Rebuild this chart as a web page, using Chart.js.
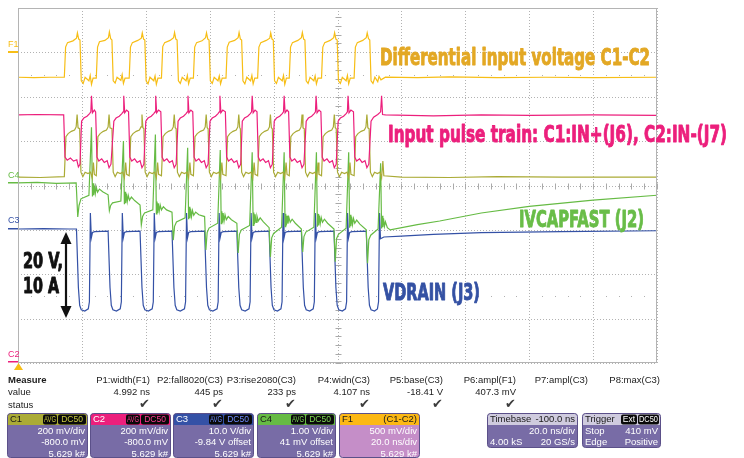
<!DOCTYPE html>
<html>
<head>
<meta charset="utf-8">
<script src="https://cdn.jsdelivr.net/npm/chart.js@4.4.1/dist/chart.umd.min.js"></script>
<style>
  html, body { margin: 0; padding: 0; background: #fff; }
  #wrap { width: 744px; height: 458px; }
</style>
</head>
<body>
<div id="wrap"><canvas id="scope" width="744" height="458"></canvas></div>
<script>
// screen: 10 div x 20 ns, 8 vertical div; all traces in screen divisions
const timeRangeNs = [0, 200];
const screenDivs = [-4, 4];

// F1 = C1-C2, differential input voltage
const diffC1C2 = [
  [0,2.44],[5,2.43],[10,2.44],
  [14.5,2.44],[14.9,3.12],[15.5,3.22],[17.2,3.26],[18.3,3.32],[18.6,3.44],[19.0,3.30],[19.4,3.28],[19.8,2.36],[20.4,2.30],[21.0,2.44],[22.2,2.36],[22.6,2.48],[23.0,2.28],[23.5,2.42],
  [24.5,2.42],[24.9,3.12],[25.5,3.24],[27.2,3.27],[28.3,3.33],[28.6,3.46],[29.0,3.31],[29.4,3.28],[29.8,2.36],[30.4,2.31],[31.0,2.44],[32.2,2.37],[32.6,2.50],[33.0,2.30],[33.5,2.42],
  [34.8,2.42],[35.2,3.12],[35.8,3.22],[37.5,3.27],[38.6,3.32],[38.9,3.44],[39.3,3.30],[39.7,3.28],[40.1,2.36],[40.7,2.29],[41.3,2.44],[42.5,2.36],[42.9,2.47],[43.3,2.28],[43.8,2.42],
  [44.9,2.42],[45.3,3.13],[45.9,3.22],[47.6,3.27],[48.7,3.33],[49.0,3.45],[49.4,3.30],[49.8,3.28],[50.2,2.36],[50.8,2.30],[51.4,2.44],[52.6,2.36],[53.0,2.48],[53.4,2.29],[53.9,2.42],
  [54.9,2.42],[55.3,3.12],[55.9,3.22],[57.6,3.26],[58.7,3.33],[59.0,3.44],[59.4,3.30],[59.8,3.28],[60.2,2.36],[60.8,2.30],[61.4,2.44],[62.6,2.36],[63.0,2.47],[63.4,2.29],[63.9,2.42],
  [65.1,2.42],[65.5,3.12],[66.1,3.23],[67.8,3.27],[68.9,3.33],[69.2,3.45],[69.6,3.30],[70.0,3.28],[70.4,2.36],[71.0,2.29],[71.6,2.44],[72.8,2.36],[73.2,2.48],[73.6,2.29],[74.1,2.42],
  [75.0,2.42],[75.4,3.12],[76.0,3.22],[77.7,3.27],[78.8,3.32],[79.1,3.44],[79.5,3.30],[79.9,3.28],[80.3,2.36],[80.9,2.30],[81.5,2.44],[82.7,2.36],[83.1,2.48],[83.5,2.28],[84.0,2.42],
  [84.9,2.42],[85.3,3.12],[85.9,3.22],[87.6,3.27],[88.7,3.33],[89.0,3.45],[89.4,3.30],[89.8,3.28],[90.2,2.36],[90.8,2.30],[91.4,2.44],[92.6,2.36],[93.0,2.47],[93.4,2.29],[93.9,2.42],
  [95.0,2.42],[95.4,3.12],[96.0,3.22],[97.7,3.27],[98.8,3.33],[99.1,3.44],[99.5,3.30],[99.9,3.28],[100.3,2.36],[100.9,2.30],[101.5,2.44],[102.7,2.36],[103.1,2.48],[103.5,2.29],[104.0,2.42],
  [105.2,2.42],[105.6,3.12],[106.2,3.22],[107.9,3.27],[109.0,3.33],[109.3,3.44],[109.7,3.31],[110.1,3.28],[110.5,2.36],[111.1,2.30],[111.7,2.44],[112.6,2.34],[113.0,2.46],[113.6,2.38],
  [115,2.44],[125,2.43],[135,2.45],[150,2.43],[165,2.44],[180,2.43],[200,2.44]
];

// C2 = IN-(J7)
const pulseC2 = [
  [0,1.59],[6,1.60],[14.3,1.59],[14.7,0.64],[15.4,0.57],[16.4,0.62],[17.4,0.55],[18.4,0.58],[18.9,0.42],[19.4,0.48],
  [19.9,1.45],[20.6,1.52],[21.6,1.56],[22.4,1.62],[22.8,1.66],[23.0,2.02],[23.3,1.64],[23.9,1.70],[24.3,1.66],[24.7,0.64],[25.3,0.55],[26.2,0.60],[27.0,0.52],[27.9,0.56],[28.5,0.40],[29.1,0.48],
  [30.0,1.45],[30.7,1.52],[31.7,1.56],[32.5,1.62],[32.9,1.66],[33.1,2.02],[33.4,1.64],[34.0,1.70],[34.6,1.66],[35.0,0.64],[35.6,0.55],[36.5,0.60],[37.3,0.52],[38.2,0.56],[38.8,0.40],[39.4,0.48],
  [40.0,1.45],[40.7,1.52],[41.7,1.56],[42.5,1.62],[42.9,1.66],[43.1,2.02],[43.4,1.64],[44.0,1.70],[44.7,1.66],[45.1,0.64],[45.7,0.55],[46.6,0.60],[47.4,0.52],[48.3,0.56],[48.9,0.40],[49.5,0.48],
  [50.1,1.45],[50.8,1.52],[51.8,1.56],[52.6,1.62],[53.0,1.66],[53.2,2.02],[53.5,1.64],[54.1,1.70],[54.7,1.66],[55.1,0.64],[55.7,0.55],[56.6,0.60],[57.4,0.52],[58.3,0.56],[58.9,0.40],[59.5,0.48],
  [60.1,1.45],[60.8,1.52],[61.8,1.56],[62.6,1.62],[63.0,1.66],[63.2,2.02],[63.5,1.64],[64.1,1.70],[64.9,1.66],[65.3,0.64],[65.9,0.55],[66.8,0.60],[67.6,0.52],[68.5,0.56],[69.1,0.40],[69.7,0.48],
  [70.2,1.45],[70.9,1.52],[71.9,1.56],[72.7,1.62],[73.1,1.66],[73.3,2.02],[73.6,1.64],[74.2,1.70],[74.8,1.66],[75.2,0.64],[75.8,0.55],[76.7,0.60],[77.5,0.52],[78.4,0.56],[79.0,0.40],[79.6,0.48],
  [80.2,1.45],[80.9,1.52],[81.9,1.56],[82.7,1.62],[83.1,1.66],[83.3,2.02],[83.6,1.64],[84.2,1.70],[84.7,1.66],[85.1,0.64],[85.7,0.55],[86.6,0.60],[87.4,0.52],[88.3,0.56],[88.9,0.40],[89.5,0.48],
  [90.2,1.45],[90.9,1.52],[91.9,1.56],[92.7,1.62],[93.1,1.66],[93.3,2.02],[93.6,1.64],[94.2,1.70],[94.8,1.66],[95.2,0.64],[95.8,0.55],[96.7,0.60],[97.5,0.52],[98.4,0.56],[99.0,0.40],[99.6,0.48],
  [100.2,1.45],[100.9,1.52],[101.9,1.56],[102.7,1.62],[103.1,1.66],[103.3,2.02],[103.6,1.64],[104.2,1.70],[105.0,1.66],[105.4,0.64],[106.0,0.55],[106.9,0.60],[107.7,0.52],[108.6,0.56],[109.2,0.40],[109.8,0.48],
  [110.5,1.45],[111.3,1.54],[112.6,1.60],[113.5,1.66],[113.8,2.02],[114.1,1.60],[115,1.59],[130,1.57],[145,1.59],[160,1.58],[180,1.59],[200,1.58]
];

// C1 = IN+(J6)
const pulseC1 = [
  [0,0.19],[7,0.18],[14.5,0.20],
  [15.0,1.10],[15.7,1.17],[16.7,1.22],[17.7,1.25],[18.2,1.32],[18.5,1.60],[18.8,1.30],[19.3,1.28],[19.7,0.30],[20.3,0.20],[21.0,0.30],[21.9,0.27],[22.7,0.30],[23.2,0.17],[23.6,0.52],[23.9,0.25],
  [24.5,0.22],[25.0,1.10],[25.7,1.17],[26.7,1.22],[27.7,1.25],[28.2,1.32],[28.5,1.60],[28.8,1.30],[29.4,1.28],[29.8,0.30],[30.4,0.20],[31.1,0.30],[32.0,0.27],[32.8,0.30],[33.3,0.17],[33.7,0.52],[34.0,0.25],
  [34.8,0.22],[35.3,1.10],[36.0,1.17],[37.0,1.22],[38.0,1.25],[38.5,1.32],[38.8,1.60],[39.1,1.30],[39.4,1.28],[39.8,0.30],[40.4,0.20],[41.1,0.30],[42.0,0.27],[42.8,0.30],[43.3,0.17],[43.7,0.52],[44.0,0.25],
  [44.9,0.22],[45.4,1.10],[46.1,1.17],[47.1,1.22],[48.1,1.25],[48.6,1.32],[48.9,1.60],[49.2,1.30],[49.5,1.28],[49.9,0.30],[50.5,0.20],[51.2,0.30],[52.1,0.27],[52.9,0.30],[53.4,0.17],[53.8,0.52],[54.1,0.25],
  [54.9,0.22],[55.4,1.10],[56.1,1.17],[57.1,1.22],[58.1,1.25],[58.6,1.32],[58.9,1.60],[59.2,1.30],[59.5,1.28],[59.9,0.30],[60.5,0.20],[61.2,0.30],[62.1,0.27],[62.9,0.30],[63.4,0.17],[63.8,0.52],[64.1,0.25],
  [65.1,0.22],[65.6,1.10],[66.3,1.17],[67.3,1.22],[68.3,1.25],[68.8,1.32],[69.1,1.60],[69.4,1.30],[69.6,1.28],[70.0,0.30],[70.6,0.20],[71.3,0.30],[72.2,0.27],[73.0,0.30],[73.5,0.17],[73.9,0.52],[74.2,0.25],
  [75.0,0.22],[75.5,1.10],[76.2,1.17],[77.2,1.22],[78.2,1.25],[78.7,1.32],[79.0,1.60],[79.3,1.30],[79.6,1.28],[80.0,0.30],[80.6,0.20],[81.3,0.30],[82.2,0.27],[83.0,0.30],[83.5,0.17],[83.9,0.52],[84.2,0.25],
  [84.9,0.22],[85.4,1.10],[86.1,1.17],[87.1,1.22],[88.1,1.25],[88.6,1.32],[88.9,1.60],[89.2,1.30],[89.6,1.28],[90.0,0.30],[90.6,0.20],[91.3,0.30],[92.2,0.27],[93.0,0.30],[93.5,0.17],[93.9,0.52],[94.2,0.25],
  [95.0,0.22],[95.5,1.10],[96.2,1.17],[97.2,1.22],[98.2,1.25],[98.7,1.32],[99.0,1.60],[99.3,1.30],[99.6,1.28],[100.0,0.30],[100.6,0.20],[101.3,0.30],[102.2,0.27],[103.0,0.30],[103.5,0.17],[103.9,0.52],[104.2,0.25],
  [105.2,0.22],[105.7,1.10],[106.4,1.17],[107.4,1.22],[108.4,1.25],[108.9,1.32],[109.2,1.60],[109.5,1.30],[109.9,1.28],[110.3,0.30],[110.9,0.20],[111.6,0.30],[112.5,0.27],[113.3,0.30],[113.8,0.17],[114.2,0.55],[114.5,0.22],
  [120,0.19],[135,0.18],[150,0.20],[170,0.19],[200,0.19]
];

// C4 = IVCAPFAST (J2)
const ivcapFast = [
  [0,0.06],[6,0.07],[12,0.05],[18.2,0.06],
  [18.7,-0.71],[19.1,-0.45],[19.7,-0.30],[22.2,-0.22],[23.0,1.31],[23.3,-0.25],[23.5,0.05],[23.7,-0.22],[23.9,0.00],[24.2,-0.18],[24.5,-0.04],[24.9,-0.15],[25.5,-0.08],[26.5,-0.14],[28.2,-0.21],
  [28.6,-0.57],[29.0,-0.45],[29.6,-0.39],[32.2,-0.35],[33.0,1.00],[33.3,-0.42],[33.5,-0.14],[33.7,-0.40],[33.9,-0.18],[34.2,-0.36],[34.5,-0.22],[34.9,-0.33],[35.5,-0.26],[36.5,-0.34],[38.2,-0.44],
  [38.6,-0.89],[39.0,-0.70],[39.6,-0.62],[42.2,-0.55],[43.0,1.15],[43.3,-0.64],[43.5,-0.36],[43.7,-0.62],[43.9,-0.40],[44.2,-0.58],[44.5,-0.44],[44.9,-0.55],[45.5,-0.48],[46.5,-0.55],[48.2,-0.60],
  [48.6,-1.23],[49.0,-0.92],[49.6,-0.82],[52.3,-0.73],[53.1,0.85],[53.4,-0.76],[53.6,-0.48],[53.8,-0.74],[54.0,-0.52],[54.3,-0.70],[54.6,-0.56],[55.0,-0.67],[55.6,-0.60],[56.6,-0.66],[58.4,-0.70],
  [58.8,-1.45],[59.2,-1.06],[59.8,-0.96],[62.5,-0.85],[63.3,0.80],[63.6,-0.86],[63.8,-0.58],[64.0,-0.84],[64.2,-0.62],[64.5,-0.80],[64.8,-0.66],[65.2,-0.77],[65.8,-0.70],[66.8,-0.77],[68.5,-0.85],
  [68.9,-1.52],[69.3,-1.10],[69.9,-1.00],[72.5,-0.90],[73.3,0.75],[73.6,-0.90],[73.8,-0.61],[74.0,-0.87],[74.2,-0.65],[74.5,-0.83],[74.8,-0.69],[75.2,-0.80],[75.8,-0.73],[76.8,-0.82],[78.6,-0.95],
  [79.0,-1.61],[79.4,-1.18],[80.0,-1.08],[82.5,-0.94],[83.3,0.75],[83.6,-0.93],[83.8,-0.64],[84.0,-0.90],[84.2,-0.68],[84.5,-0.86],[84.8,-0.72],[85.2,-0.83],[85.8,-0.76],[86.8,-0.85],[88.7,-0.98],
  [89.1,-1.50],[89.5,-1.15],[90.1,-1.05],[92.6,-0.94],[93.4,0.75],[93.7,-0.93],[93.9,-0.64],[94.1,-0.90],[94.3,-0.68],[94.6,-0.86],[94.9,-0.72],[95.3,-0.83],[95.9,-0.76],[96.9,-0.85],[98.9,-0.98],
  [99.3,-1.72],[99.7,-1.20],[100.3,-1.10],[102.7,-0.96],[103.5,0.75],[103.8,-0.95],[104.0,-0.66],[104.2,-0.92],[104.4,-0.70],[104.7,-0.88],[105.0,-0.74],[105.4,-0.85],[106.0,-0.78],[107.0,-0.87],[109.0,-1.00],
  [109.4,-1.75],[109.8,-1.22],[110.4,-1.12],[112.7,-0.98],[113.5,0.50],[113.8,-0.97],[114.0,-0.68],[114.2,-0.94],[114.4,-0.74],[114.7,-0.92],[115.0,-0.82],[115.6,-0.95],
  [116.5,-1.00],[125,-0.88],[132,-0.80],[145,-0.62],[160,-0.47],[180,-0.33],[200,-0.22]
];

// C3 = VDRAIN (J3)
const vDrain = [
  [0,-0.98],[8,-0.97],[16,-0.98],[18.3,-0.98],
  [18.9,-2.30],[19.3,-2.70],[19.8,-2.80],[20.9,-2.83],[22.0,-2.78],[22.35,-2.62],[22.65,-0.62],[22.95,-1.18],[23.3,-1.06],[24.0,-1.04],[28.2,-1.03],
  [28.8,-2.30],[29.2,-2.70],[29.7,-2.80],[30.8,-2.83],[32.0,-2.78],[32.35,-2.62],[32.65,-0.62],[32.95,-1.18],[33.3,-1.06],[34.0,-1.04],[38.2,-1.03],
  [38.8,-2.30],[39.2,-2.70],[39.7,-2.80],[40.8,-2.83],[42.0,-2.78],[42.35,-2.62],[42.65,-0.62],[42.95,-1.18],[43.3,-1.06],[44.0,-1.04],[48.2,-1.03],
  [48.8,-2.30],[49.2,-2.70],[49.7,-2.80],[50.8,-2.83],[52.1,-2.78],[52.45,-2.62],[52.75,-0.62],[53.05,-1.18],[53.4,-1.06],[54.1,-1.04],[58.4,-1.03],
  [59.0,-2.30],[59.4,-2.70],[59.9,-2.80],[61.0,-2.83],[62.3,-2.78],[62.65,-2.62],[62.95,-0.62],[63.25,-1.18],[63.6,-1.06],[64.3,-1.04],[68.5,-1.03],
  [69.1,-2.30],[69.5,-2.70],[70.0,-2.80],[71.1,-2.83],[72.3,-2.78],[72.65,-2.62],[72.95,-0.62],[73.25,-1.18],[73.6,-1.06],[74.3,-1.04],[78.6,-1.03],
  [79.2,-2.30],[79.6,-2.70],[80.1,-2.80],[81.2,-2.83],[82.3,-2.78],[82.65,-2.62],[82.95,-0.62],[83.25,-1.18],[83.6,-1.06],[84.3,-1.04],[88.7,-1.03],
  [89.3,-2.30],[89.7,-2.70],[90.2,-2.80],[91.3,-2.83],[92.4,-2.78],[92.75,-2.62],[93.05,-0.62],[93.35,-1.18],[93.7,-1.06],[94.4,-1.04],[98.9,-1.03],
  [99.5,-2.30],[99.9,-2.70],[100.4,-2.80],[101.5,-2.83],[102.5,-2.78],[102.85,-2.62],[103.15,-0.62],[103.45,-1.18],[103.8,-1.06],[104.5,-1.04],[109.0,-1.03],
  [109.6,-2.30],[110.0,-2.70],[110.5,-2.80],[111.6,-2.83],[112.5,-2.78],[112.85,-2.62],[113.15,-0.62],[113.45,-1.20],[114.5,-1.16],
  [120,-1.14],[130,-1.10],[145,-1.06],[170,-1.04],[200,-1.02]
];

// measurement table and channel descriptors
const measureNames = ["P1:width(F1)", "P2:fall8020(C3)", "P3:rise2080(C3)", "P4:widn(C3)", "P5:base(C3)", "P6:ampl(F1)", "P7:ampl(C3)", "P8:max(C3)"];
const measureValues = ["4.992 ns", "445 ps", "233 ps", "4.107 ns", "-18.41 V", "407.3 mV", "", ""];
const measureStatus = [true, true, true, true, true, true, false, false];
const channelNames = ["C1", "C2", "C3", "C4"];
const channelLines = [
  ["200 mV/div", "-800.0 mV", "5.629 k#"],
  ["200 mV/div", "-800.0 mV", "5.629 k#"],
  ["10.0 V/div", "-9.84 V offset", "5.629 k#"],
  ["1.00 V/div", "41 mV offset", "5.629 k#"]
];
const mathLines = ["500 mV/div", "20.0 ns/div", "5.629 k#"];

const COL = {
  f1: "#f7be16", c1: "#abab36", c2: "#ec1f7c", c3: "#3451a6", c4: "#66bb44"
};

function rrect(ctx, x, y, w, h, r) {
  ctx.beginPath();
  ctx.moveTo(x + r, y);
  ctx.lineTo(x + w - r, y);
  ctx.quadraticCurveTo(x + w, y, x + w, y + r);
  ctx.lineTo(x + w, y + h - r);
  ctx.quadraticCurveTo(x + w, y + h, x + w - r, y + h);
  ctx.lineTo(x + r, y + h);
  ctx.quadraticCurveTo(x, y + h, x, y + h - r);
  ctx.lineTo(x, y + r);
  ctx.quadraticCurveTo(x, y, x + r, y);
  ctx.closePath();
}

// draws text squeezed/stretched to a given width (condensed look)
function fitText(ctx, text, x, baseline, width, font, color, weight) {
  ctx.save();
  ctx.font = font;
  ctx.fillStyle = color;
  ctx.textAlign = "left";
  ctx.textBaseline = "alphabetic";
  const w = ctx.measureText(text).width;
  ctx.translate(x, baseline);
  ctx.scale(width / w, 1);
  ctx.fillText(text, 0, 0);
  if (weight) {
    ctx.strokeStyle = color;
    ctx.lineWidth = weight;
    ctx.lineJoin = "round";
    ctx.strokeText(text, 0, 0);
  }
  ctx.restore();
}

const BIG = 'bold 23px "Liberation Sans Narrow", "DejaVu Sans Condensed", "Liberation Sans", sans-serif';
const SMALL = '9.5px "Liberation Sans", Arial, sans-serif';

const scopeDecor = {
  id: "scopeDecor",
  beforeDatasetsDraw(chart) {
    const { ctx, chartArea: a, scales: { x, y } } = chart;
    ctx.save();
    ctx.strokeStyle = "#b2b2b2";
    ctx.lineWidth = 1;
    ctx.setLineDash([1, 2]);
    x.ticks.forEach(t => {
      const px = Math.round(x.getPixelForValue(t.value)) + 0.5;
      ctx.beginPath(); ctx.moveTo(px, a.top); ctx.lineTo(px, a.bottom); ctx.stroke();
    });
    y.ticks.forEach(t => {
      const py = Math.round(y.getPixelForValue(t.value)) + 0.5;
      ctx.beginPath(); ctx.moveTo(a.left, py); ctx.lineTo(a.right, py); ctx.stroke();
    });
    ctx.setLineDash([]);
    // minor ticks on the centre cross
    ctx.strokeStyle = "#aaaaaa";
    const cx = Math.round(x.getPixelForValue(100)) + 0.5;
    const cy = Math.round(y.getPixelForValue(0)) + 0.5;
    ctx.beginPath();
    for (let t = 0; t <= 200; t += 4) {
      const px = Math.round(x.getPixelForValue(t)) + 0.5;
      ctx.moveTo(px, cy - 3); ctx.lineTo(px, cy + 3);
    }
    for (let v = -40; v <= 40; v += 2) {
      const py = Math.round(y.getPixelForValue(v / 10)) + 0.5;
      ctx.moveTo(cx - 3, py); ctx.lineTo(cx + 3, py);
    }
    ctx.stroke();
    ctx.fillStyle = "#b0b0b0";
    [2.5, -2.5].forEach(v => {
      const py = Math.round(y.getPixelForValue(v));
      for (let t = 4; t < 200; t += 4) {
        if (t % 20 === 0) continue;
        ctx.fillRect(Math.round(x.getPixelForValue(t)), py, 1, 1);
      }
    });
    ctx.restore();
  },
  afterDatasetsDraw(chart) {
    const { ctx, chartArea: a, scales: { y } } = chart;
    ctx.save();
    ctx.strokeStyle = "#b4b4b4";
    ctx.lineWidth = 1;
    ctx.strokeRect(a.left + 0.5, a.top + 0.5, a.right - a.left - 1, a.bottom - a.top - 1);

    // channel ground markers on the left
    ctx.font = '9px "Liberation Sans", Arial, sans-serif';
    ctx.textBaseline = "middle";
    ctx.textAlign = "left";
    ctx.fillStyle = COL.f1; ctx.fillText("F1", 8, 45);
    ctx.fillRect(8, Math.round(y.getPixelForValue(3)) - 1, 10, 2);
    ctx.fillStyle = COL.c4; ctx.fillText("C4", 8, 176);
    ctx.fillRect(8, Math.round(y.getPixelForValue(0.06)) - 1, 10, 1.5);
    ctx.fillStyle = COL.c3; ctx.fillText("C3", 8, 221);
    ctx.fillRect(8, Math.round(y.getPixelForValue(-0.98)) - 1, 10, 1.5);
    ctx.fillStyle = COL.c2; ctx.fillText("C2", 8, 355);
    ctx.fillRect(8, 361, 10, 1.5);

    // annotations
    fitText(ctx, "Differential input voltage C1-C2", 380, 65, 270, BIG, "#e3a824", 0.9);
    fitText(ctx, "Input pulse train: C1:IN+(J6), C2:IN-(J7)", 388, 142, 339, BIG, "#ec1f7c", 0.9);
    fitText(ctx, "IVCAPFAST (J2)", 519, 227, 125, BIG, "#69bd48", 0.9);
    fitText(ctx, "VDRAIN (J3)", 383, 300, 97, BIG, "#3451a3", 0.9);
    const BIG2 = BIG.replace("23px", "22px");
    fitText(ctx, "20 V,", 23, 268, 40, BIG2, "#111", 0.9);
    fitText(ctx, "10 A", 23, 293, 36, BIG2, "#111", 0.9);

    // double arrow
    ctx.strokeStyle = "#111"; ctx.fillStyle = "#111"; ctx.lineWidth = 2.2;
    ctx.beginPath(); ctx.moveTo(66, 240); ctx.lineTo(66, 310); ctx.stroke();
    ctx.beginPath(); ctx.moveTo(66, 232); ctx.lineTo(60.5, 244); ctx.lineTo(71.5, 244); ctx.closePath(); ctx.fill();
    ctx.beginPath(); ctx.moveTo(66, 318); ctx.lineTo(60.5, 306); ctx.lineTo(71.5, 306); ctx.closePath(); ctx.fill();
    ctx.restore();
  },
  afterDraw(chart) {
    const { ctx } = chart;
    ctx.save();
    // trigger marker
    ctx.fillStyle = COL.f1;
    ctx.beginPath(); ctx.moveTo(18.5, 363); ctx.lineTo(23, 370); ctx.lineTo(14, 370); ctx.closePath(); ctx.fill();

    // measurement table
    ctx.fillStyle = "#1c1c1c";
    ctx.textBaseline = "middle";
    ctx.font = 'bold ' + SMALL;
    ctx.textAlign = "left";
    ctx.fillText("Measure", 8, 380);
    ctx.font = SMALL;
    ctx.fillText("value", 8, 392.5);
    ctx.fillText("status", 8, 405);
    const colRight = [150, 223, 296, 370, 443, 516, 588, 660];
    ctx.textAlign = "right";
    measureNames.forEach((n, i) => {
      ctx.fillStyle = "#1c1c1c";
      ctx.font = SMALL;
      ctx.fillText(n, colRight[i], 380);
      ctx.fillText(measureValues[i], colRight[i], 392.5);
      if (measureStatus[i]) {
        ctx.fillStyle = "#3c3c3c";
        ctx.font = '13px "DejaVu Sans", sans-serif';
        ctx.fillText("\u2714", colRight[i], 405);
      }
    });

    // channel boxes
    const BODY = "#786ca6";
    const boxX = [7, 90, 173, 257];
    const boxW = [80, 80, 80, 78];
    const headCol = [COL.c1, COL.c2, COL.c3, COL.c4];
    const headTxt = ["#1a1a1a", "#fff", "#fff", "#1a1a1a"];
    const badgeTxt = ["#c8c840", "#ff3d94", "#6f8cff", "#7fdc55"];
    const drawBox = (x, w, bottom, head, body) => {
      rrect(ctx, x + 0.5, 413.5, w, bottom - 413, 3);
      ctx.fillStyle = body; ctx.fill();
      ctx.save(); ctx.clip();
      ctx.fillStyle = head; ctx.fillRect(x, 413, w + 1, 12);
      ctx.restore();
      rrect(ctx, x + 0.5, 413.5, w, bottom - 413, 3);
      ctx.strokeStyle = "#5b5089"; ctx.lineWidth = 1; ctx.stroke();
    };
    const badge = (x, w, text, color) => {
      rrect(ctx, x, 414.5, w, 10, 2);
      ctx.fillStyle = "#0a0a0a"; ctx.fill();
      ctx.save();
      ctx.font = '8.5px "Liberation Sans", Arial, sans-serif';
      const tw = ctx.measureText(text).width;
      const s = Math.min(1, (w - 2) / tw);
      ctx.translate(x + w / 2, 420);
      ctx.scale(s, 1);
      ctx.fillStyle = color;
      ctx.textAlign = "center";
      ctx.textBaseline = "middle";
      ctx.fillText(text, 0, 0);
      ctx.restore();
    };
    channelNames.forEach((name, i) => {
      const x = boxX[i], w = boxW[i];
      drawBox(x, w, 457, headCol[i], BODY);
      ctx.textAlign = "left"; ctx.font = SMALL; ctx.fillStyle = headTxt[i];
      ctx.fillText(name, x + 3, 419.5);
      badge(x + w - 44, 14, "AVG", badgeTxt[i]);
      badge(x + w - 29, 28, "DC50", badgeTxt[i]);
      ctx.textAlign = "right"; ctx.font = SMALL; ctx.fillStyle = "#fff";
      channelLines[i].forEach((t, j) => ctx.fillText(t, x + w - 2, 431 + j * 11.5));
    });

    // math F1 box
    drawBox(339, 80, 457, "#fcb814", "#c58ec8");
    ctx.font = SMALL; ctx.fillStyle = "#1a1a1a";
    ctx.textAlign = "left"; ctx.fillText("F1", 342, 419.5);
    ctx.textAlign = "right"; ctx.fillText("(C1-C2)", 417, 419.5);
    ctx.fillStyle = "#fff";
    mathLines.forEach((t, j) => ctx.fillText(t, 417, 431 + j * 11.5));

    // timebase box
    drawBox(487, 90, 447, "#cfcbde", BODY);
    ctx.fillStyle = "#1a1a1a";
    ctx.textAlign = "left"; ctx.fillText("Timebase", 490, 419.5);
    ctx.textAlign = "right"; ctx.fillText("-100.0 ns", 575, 419.5);
    ctx.fillStyle = "#fff";
    ctx.fillText("20.0 ns/div", 575, 431);
    ctx.fillText("20 GS/s", 575, 442);
    ctx.textAlign = "left"; ctx.fillText("4.00 kS", 490, 442);

    // trigger box
    drawBox(582, 78, 447, "#cfcbde", BODY);
    ctx.fillStyle = "#1a1a1a"; ctx.font = SMALL;
    ctx.textAlign = "left"; ctx.fillText("Trigger", 585, 419.5);
    badge(621, 16, "Ext", "#fff");
    badge(638, 21, "DC50", "#fff");
    ctx.font = SMALL; ctx.fillStyle = "#fff";
    ctx.textAlign = "left";
    ctx.fillText("Stop", 585, 431); ctx.fillText("Edge", 585, 442);
    ctx.textAlign = "right";
    ctx.fillText("410 mV", 658, 431); ctx.fillText("Positive", 658, 442);
    ctx.restore();
  }
};

const traceStyle = (data, color) => ({
  data: data,
  borderColor: color,
  borderWidth: 1.2,
  pointRadius: 0,
  tension: 0,
  fill: false
});

new Chart(document.getElementById("scope").getContext("2d"), {
  type: "line",
  data: {
    datasets: [
      traceStyle(diffC1C2, COL.f1),
      traceStyle(pulseC2, COL.c2),
      traceStyle(pulseC1, COL.c1),
      traceStyle(ivcapFast, COL.c4),
      traceStyle(vDrain, COL.c3)
    ]
  },
  options: {
    responsive: false,
    animation: false,
    devicePixelRatio: 1,
    layout: { padding: { left: 18, right: 87, top: 8, bottom: 95 } },
    plugins: { legend: { display: false }, tooltip: { enabled: false } },
    scales: {
      x: { type: "linear", display: false, min: timeRangeNs[0], max: timeRangeNs[1], ticks: { stepSize: 20 } },
      y: { type: "linear", display: false, min: screenDivs[0], max: screenDivs[1], ticks: { stepSize: 1 } }
    }
  },
  plugins: [scopeDecor]
});
</script>
</body>
</html>
